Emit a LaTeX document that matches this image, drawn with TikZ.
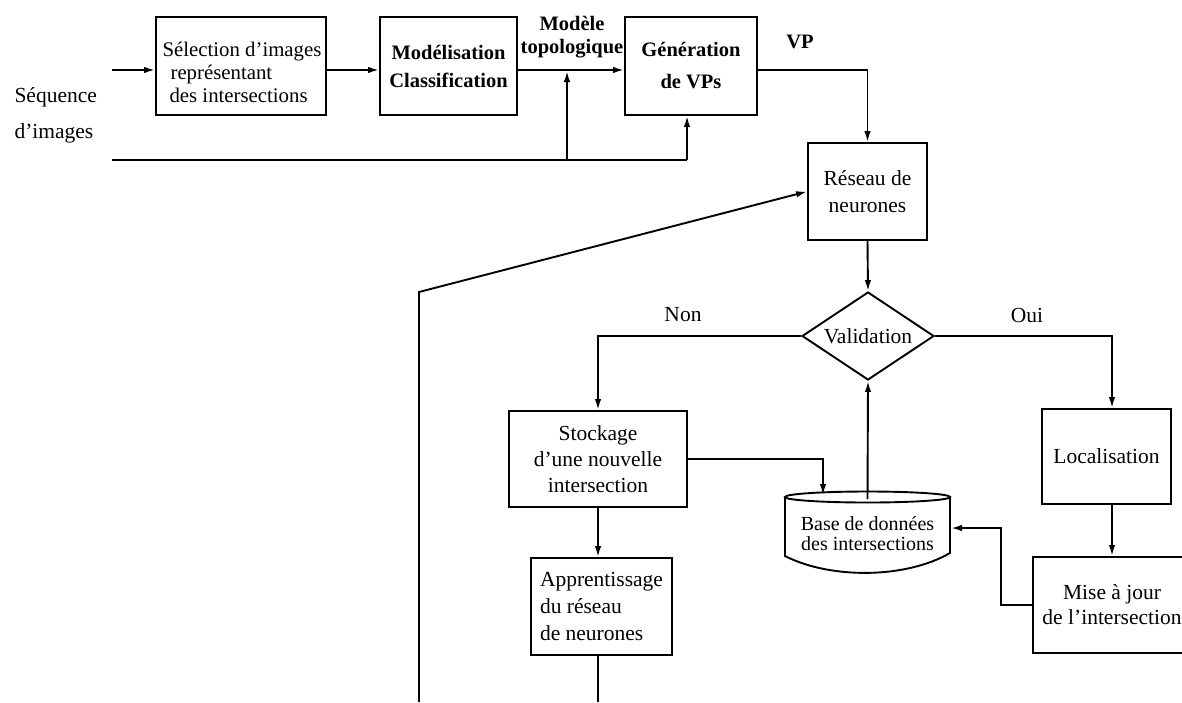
\documentclass[tikz,border=0pt]{standalone}
\usepackage{fontspec}
\setmainfont{Liberation Serif}
\usetikzlibrary{shapes.geometric,arrows.meta}

\tikzset{
  flow/.style={line width=1.9pt},
  arr/.style={flow, -{Latex[length=11pt,width=6.5pt]}},
  stepbox/.style={draw, rectangle, line width=1.9pt, inner sep=0pt, align=center},
  f20/.style={font=\fontsize{21.5pt}{#1}\selectfont, align=center},
  b20/.style={font=\fontsize{20.5pt}{#1}\selectfont\bfseries, align=center},
}

\begin{document}
\begin{tikzpicture}[x=1pt, y=-1pt]
\useasboundingbox (0,0) rectangle (1182,702);

% --- top chain ---------------------------------------------------------
\node[f20=36pt, align=left, anchor=west] (seq) at (11,115) {Séquence\\d’images};

\node[stepbox, minimum width=170pt, minimum height=98pt] (sel) at (241,66) {};
\node[font=\fontsize{20.8pt}{23pt}\selectfont, align=left] (selt) at (242,72)
  {Sélection d’images\\\hspace*{8pt}représentant\\\hspace*{7pt}des intersections};
\node[stepbox, b20=28pt, minimum width=137pt, minimum height=98pt] (mod) at (448.5,66)
  {Modélisation\\Classification};
\node[stepbox, b20=32pt, minimum width=132pt, minimum height=98pt] (gen) at (691,66)
  {Génération\\de VPs};
\node[b20=23pt] (topo) at (572,37) {Modèle\\topologique};
\node[b20=23pt] (vp) at (800,42) {VP};

\node[stepbox, f20=27pt, minimum width=119pt, minimum height=97pt] (net) at (867.5,191.5)
  {Réseau de\\neurones};

% --- decision ---------------------------------------------------------
\node[draw, diamond, line width=1.9pt, aspect=1.5, inner sep=0pt,
      minimum width=132pt, minimum height=88pt, f20=24pt] (dia) at (868,336) {Validation};
\node[f20=24pt] (non) at (683,315) {Non};
\node[f20=24pt] (oui) at (1027,315) {Oui};

% --- lower boxes ------------------------------------------------------
\node[stepbox, f20=26pt, minimum width=178pt, minimum height=96pt] (stock) at (598,459)
  {Stockage\\d’une nouvelle\\intersection};
\node[stepbox, f20=27pt, align=left, minimum width=141pt, minimum height=97pt] (app) at (601.5,606.5)
  {Apprentissage\\du réseau\\de neurones};
\node[stepbox, f20=24pt, minimum width=129pt, minimum height=95pt] (loc) at (1106.5,456.5)
  {Localisation};
\node[stepbox, f20=25pt, minimum width=158pt, minimum height=96pt] (maj) at (1112,605)
  {Mise à jour\\de l’intersection};

% --- database drum ----------------------------------------------------
\draw[flow] (867.5,497) ellipse [x radius=82.5pt, y radius=5.5pt];
\draw[flow] (785,497) -- (785,556) .. controls (830,579) and (905,579) .. (950,553) -- (950,497);
\node[font=\fontsize{20pt}{20pt}\selectfont, align=center] (db) at (867.5,534)
  {Base de données\\des intersections};

% --- helper points ----------------------------------------------------
\coordinate (in)   at (112,70);
\coordinate (ax)   at (0,70);
\coordinate (b0)   at (112,160);
\coordinate (bm)   at (567,160);
\coordinate (bj)   at (687,160);
\coordinate (fb)   at (419,292);
\coordinate (fbot) at (419,702);
\coordinate (ox)   at (1112,0);
\coordinate (dbtl) at (823,495);
\coordinate (dbtc) at (867.5,499);
\coordinate (dbr)  at (951,528);
\coordinate (bot)  at (0,702);

% --- connectors -------------------------------------------------------
\draw[arr] (in) -- (in -| sel.west);
\draw[arr] (sel.east |- ax) -- (mod.west |- ax);
\draw[arr] (mod.east |- ax) -- (gen.west |- ax);
\draw[flow] (b0) -- (bj);
\draw[arr] (bj) -- (bj |- gen.south);
\draw[arr] (bm) -- ([yshift=-1pt]bm |- ax);
\draw[arr] (gen.east |- ax) -| (net.north);
\draw[arr] (fbot) -- (fb) -- (net.west);
\draw[arr] (net.south) -- (dia.north);
\draw[arr] (dia.west) -| (stock.north);
\draw[arr] (dia.east) -| (ox |- loc.north);
\draw[arr] (ox |- loc.south) -- (ox |- maj.north);
\draw[arr] (maj.west) -- ++(-31,0) |- (dbr);
\draw[arr] (stock.east) -| (dbtl);
\draw[arr] (dbtc) -- (dia.south);
\draw[arr] (stock.south) -- (stock.south |- app.north);
\draw[flow] (stock.south |- app.south) -- (stock.south |- bot);
\end{tikzpicture}
\end{document}
